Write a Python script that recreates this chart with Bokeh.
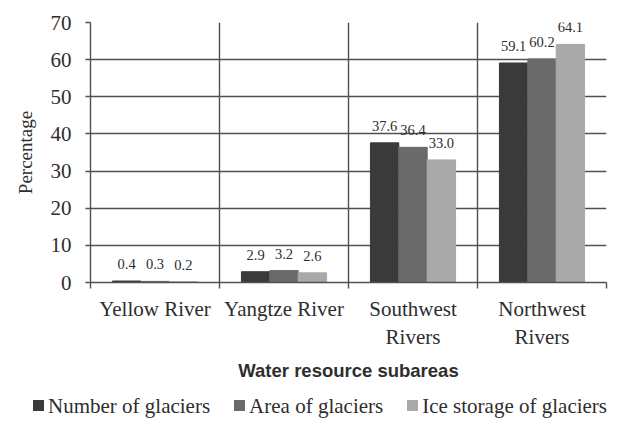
from bokeh.plotting import figure
from bokeh.models import Range1d, FixedTicker, ColumnDataSource, Div
from bokeh.transform import dodge
from bokeh.layouts import column
from bokeh.core.properties import value
from bokeh.embed import file_html
from bokeh.resources import INLINE

categories = ["Yellow River", "Yangtze River", "Southwest Rivers", "Northwest Rivers"]
tick_labels = ["Yellow River", "Yangtze River", "Southwest\nRivers", "Northwest\nRivers"]
number_of_glaciers = [0.4, 2.9, 37.6, 59.1]
area_of_glaciers = [0.3, 3.2, 36.4, 60.2]
ice_storage_of_glaciers = [0.2, 2.6, 33.0, 64.1]
series_names = ["Number of glaciers", "Area of glaciers", "Ice storage of glaciers"]
y_ticks = [0, 10, 20, 30, 40, 50, 60, 70]

colors = ["#3a3a3a", "#6a6a6a", "#a9a9a9"]
offsets = [-0.22, 0.0, 0.22]
SERIF = "Liberation Serif"
TXT = "#2e2e2e"
GRID = "#505050"

centers = [i + 0.5 for i in range(len(categories))]
series = [number_of_glaciers, area_of_glaciers, ice_storage_of_glaciers]
src = ColumnDataSource(dict(
    x=centers,
    s0=series[0], s1=series[1], s2=series[2],
    l0=["%.1f" % v for v in series[0]],
    l1=["%.1f" % v for v in series[1]],
    l2=["%.1f" % v for v in series[2]],
))

p = figure(width=608, height=384, output_backend="svg", toolbar_location=None,
           x_range=Range1d(0, len(categories)), y_range=Range1d(0, 70),
           min_border_left=90, min_border_top=22, min_border_right=2, min_border_bottom=0)
p.background_fill_color = "white"
p.border_fill_color = "white"
p.outline_line_color = None

for i in range(3):
    p.vbar(x=dodge("x", offsets[i], range=p.x_range), top="s%d" % i, width=0.22,
           source=src, fill_color=colors[i], line_color=colors[i])
    p.text(x=dodge("x", offsets[i], range=p.x_range), y="s%d" % i, text="l%d" % i,
           source=src, y_offset=-17, text_align="center", text_baseline="middle",
           text_font=value(SERIF), text_font_size="14.5px", text_color=TXT)

# x axis
xt = FixedTicker(ticks=centers, minor_ticks=list(range(len(categories) + 1)))
p.xaxis.ticker = xt
p.xaxis.major_label_overrides = {c: t for c, t in zip(centers, tick_labels)}
p.xaxis.major_tick_line_color = None
p.xaxis.minor_tick_in = 0
p.xaxis.minor_tick_out = 6
p.xaxis.minor_tick_line_color = GRID
p.xaxis.minor_tick_line_width = 1.4
p.xaxis.axis_line_color = GRID
p.xaxis.axis_line_width = 1.4
p.xaxis.major_label_text_font = SERIF
p.xaxis.major_label_text_font_size = "21px"
p.xaxis.major_label_text_color = TXT
p.xaxis.major_label_standoff = 8
p.xaxis.axis_label = "Water resource subareas"
p.xaxis.axis_label_text_font = "Liberation Sans"
p.xaxis.axis_label_text_font_style = "bold"
p.xaxis.axis_label_text_font_size = "18.5px"
p.xaxis.axis_label_text_color = TXT
p.xaxis.axis_label_standoff = 8

# y axis
p.yaxis.ticker = FixedTicker(ticks=y_ticks)
p.yaxis.major_tick_in = 0
p.yaxis.major_tick_out = 5
p.yaxis.major_tick_line_color = GRID
p.yaxis.major_tick_line_width = 1.4
p.yaxis.minor_tick_line_color = None
p.yaxis.axis_line_color = GRID
p.yaxis.axis_line_width = 1.4
p.yaxis.major_label_text_font = SERIF
p.yaxis.major_label_text_font_size = "21px"
p.yaxis.major_label_text_color = TXT
p.yaxis.major_label_standoff = 14
p.yaxis.axis_label = "Percentage"
p.yaxis.axis_label_text_font = SERIF
p.yaxis.axis_label_text_font_style = "normal"
p.yaxis.axis_label_text_font_size = "19px"
p.yaxis.axis_label_text_color = TXT
p.yaxis.axis_label_standoff = 12

# grids
p.xgrid.grid_line_color = None
p.xgrid.minor_grid_line_color = GRID
p.xgrid.minor_grid_line_width = 1.4
p.ygrid.grid_line_color = GRID
p.ygrid.grid_line_width = 1.4

# legend strip below the chart
FONT_CSS = "font-family:Liberation Serif,Times New Roman,serif;font-size:21px;color:%s;" % TXT
item_html = "".join(
    '<span style="display:inline-flex;align-items:center;margin:0 12px;%s">'
    '<span style="display:inline-block;width:11px;height:11px;background:%s;margin-right:4px;"></span>'
    '<span style="%s">%s</span></span>'
    % (FONT_CSS, c, FONT_CSS, n) for c, n in zip(colors, series_names))
legend_html = ('<div style="%swhite-space:nowrap;text-align:center;line-height:26px;width:608px;'
               'padding-left:16px;box-sizing:border-box;">%s</div>' % (FONT_CSS, item_html))
legend_div = Div(text=legend_html, width=608, height=26,
                 styles={"font-family": "Liberation Serif, serif", "font-size": "21px"})

open("out.html", "w").write(file_html(column(p, legend_div, spacing=0), INLINE))
